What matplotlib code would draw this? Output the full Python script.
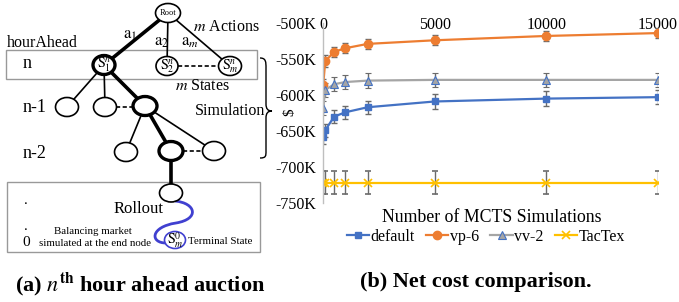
import numpy as np
import matplotlib
matplotlib.use("Agg")
import matplotlib.pyplot as plt
import matplotlib.patches as ptchs
from matplotlib.path import Path
from matplotlib.lines import Line2D

plt.rcParams['font.family'] = ['Liberation Serif', 'DejaVu Serif']
plt.rcParams['mathtext.fontset'] = 'stix'

# chart data (values in thousands of $)
sims = [10, 100, 500, 1000, 2000, 5000, 10000, 15000]
default = [-659, -649, -630, -624, -617, -609, -605, -603]
vp6 = [-586, -553, -540, -535, -529, -524, -518, -514]
vv2 = [-618, -593, -585, -582, -580, -579, -579, -579]
tactex = [-722, -722, -722, -722, -722, -722, -722, -722]
err_default = [9, 9, 9, 9, 9, 10, 10, 10]
err_vp6 = [8, 8, 7, 7, 7, 7, 7, 7]
err_vv2 = [10, 10, 10, 10, 10, 10, 10, 10]
err_tactex = [16, 16, 16, 16, 16, 16, 16, 16]
yticks = [-500, -550, -600, -650, -700, -750]
xticks = [0, 5000, 10000, 15000]

W, H = 679, 302
fig = plt.figure(figsize=(W / 100, H / 100), dpi=100)

# overlay axes in pixel coords for the diagram and captions
bg = fig.add_axes([0, 0, 1, 1])
bg.set_xlim(0, W)
bg.set_ylim(H, 0)
bg.axis('off')


def node(x, y, thick=False, w=22, h=19, col='black'):
    e = ptchs.Ellipse((x, y), w, h, facecolor='white', edgecolor=col,
                      lw=2.4 if thick else 1.2, zorder=3)
    bg.add_patch(e)


def edge(p, q, thick=False):
    bg.plot([p[0], q[0]], [p[1], q[1]], color='black',
            lw=2.6 if thick else 1.2, zorder=2, solid_capstyle='butt')


def dashed(x0, x1, y):
    bg.plot([x0, x1], [y, y], color='black', lw=1.2, ls=(0, (2.5, 1.5)), zorder=2)


# boxes
bg.add_patch(ptchs.Rectangle((6, 50), 251, 29, fill=False, edgecolor='#999999', lw=1.0, zorder=1))
bg.add_patch(ptchs.Rectangle((7, 182), 253, 70, fill=False, edgecolor='#999999', lw=1.0, zorder=1))

root = (168, 13)
s1, s2, sm = (104, 65), (167, 66), (230, 66)
l1 = [(67, 107), (105, 107), (145, 106)]
l2 = [(126, 152), (171, 151), (214, 151)]
roll = (171, 193)
term = (175, 240)

edge(root, s1, True)
edge(root, s2)
edge(root, sm)
edge(s1, l1[0])
edge(s1, l1[1])
edge(s1, l1[2], True)
edge(l1[2], l2[0])
edge(l1[2], l2[1], True)
edge(l1[2], l2[2])
edge(l2[1], roll, True)
dashed(178, 219, 66)
dashed(116, 134, 107)
dashed(183, 203, 151)

node(root[0], root[1], w=25, h=19)
node(s1[0], s1[1], True)
node(s2[0], s2[1])
node(sm[0], sm[1], w=23)
for p in l1[:2]:
    node(p[0], p[1], w=23)
node(l1[2][0], l1[2][1], True, w=24)
node(l2[0][0], l2[0][1], w=23)
node(l2[1][0], l2[1][1], True, w=24)
node(l2[2][0], l2[2][1], w=23)
node(roll[0], roll[1], w=23, h=18)

# rollout squiggle to terminal node
verts = [(175, 201), (196, 203), (200, 219), (176, 223),
         (150, 227), (150, 243), (166, 243)]
codes = [Path.MOVETO, Path.CURVE4, Path.CURVE4, Path.CURVE4,
         Path.CURVE4, Path.CURVE4, Path.CURVE4]
bg.add_patch(ptchs.PathPatch(Path(verts, codes), fill=False, edgecolor='#4040d0', lw=2.0, zorder=2))
node(term[0], term[1], w=21, h=17, col='#4040d0')

# node labels
bg.text(root[0], root[1], 'Root', fontsize=6, ha='center', va='center', zorder=4)
bg.text(s1[0], s1[1], r'$\mathrm{S}_1^n$', fontsize=10, ha='center', va='center', zorder=4)
bg.text(s2[0], s2[1], r'$\mathrm{S}_2^n$', fontsize=10, ha='center', va='center', zorder=4)
bg.text(sm[0], sm[1], r'$\mathrm{S}_m^n$', fontsize=10, ha='center', va='center', zorder=4)
bg.text(term[0], term[1], r'$\mathrm{S}_m^0$', fontsize=10, ha='center', va='center', zorder=4)

bg.text(130, 35, r'$\mathrm{a}_1$', fontsize=12, ha='center', va='center')
bg.text(162, 42, r'$\mathrm{a}_2$', fontsize=12, ha='center', va='center')
bg.text(190, 42, r'$\mathrm{a}_m$', fontsize=12, ha='center', va='center')
bg.text(193, 27, r'$m$ Actions', fontsize=11.5, ha='left', va='center')
bg.text(175, 86, r'$m$ States', fontsize=11.5, ha='left', va='center')
bg.text(7, 43, 'hourAhead', fontsize=11.5, ha='left', va='center')
bg.text(23, 64, 'n', fontsize=13, ha='left', va='center')
bg.text(23, 108, 'n-1', fontsize=13, ha='left', va='center')
bg.text(23, 153, 'n-2', fontsize=13, ha='left', va='center')
bg.text(265, 111, 'Simulation', fontsize=11.5, ha='right', va='center')
bg.text(139, 209, 'Rollout', fontsize=12, ha='center', va='center')
bg.text(93, 231, 'Balancing market', fontsize=7.8, ha='center', va='center')
bg.text(95, 243, 'simulated at the end node', fontsize=7.8, ha='center', va='center')
bg.text(188, 241, 'Terminal State', fontsize=7.8, ha='left', va='center')
bg.text(26, 200, '.', fontsize=11, ha='center', va='center')
bg.text(26, 226, '.', fontsize=11, ha='center', va='center')
bg.text(26, 243, '0', fontsize=11, ha='center', va='center')

# brace
bverts = [(260, 58), (266, 58), (266, 62), (266, 68), (266, 104),
          (266, 109), (268, 111), (272, 111), (268, 111), (266, 113),
          (266, 118), (266, 151), (266, 156), (266, 158), (260, 158)]
bcodes = [Path.MOVETO, Path.CURVE4, Path.CURVE4, Path.CURVE4, Path.LINETO,
          Path.CURVE4, Path.CURVE4, Path.CURVE4, Path.CURVE4, Path.CURVE4,
          Path.CURVE4, Path.LINETO, Path.CURVE4, Path.CURVE4, Path.CURVE4]
bg.add_patch(ptchs.PathPatch(Path(bverts, bcodes), fill=False, edgecolor='black', lw=1.0))

# captions
bg.text(140, 284, r'(a) $n^{\mathbf{th}}$ hour ahead auction', fontsize=16,
        fontweight='bold', ha='center', va='center')
bg.text(476, 282, '(b) Net cost comparison.', fontsize=16,
        fontweight='bold', ha='center', va='center')

# chart
ax = fig.add_axes([323 / W, 1 - 203 / H, (658 - 323) / W, (203 - 23) / H])
ax.patch.set_alpha(0)
ekw = dict(ecolor='#6b6b6b', elinewidth=1.0, capsize=2.5, capthick=1.0, lw=1.6)
ax.errorbar(sims, default, yerr=err_default, color='#4472C4', marker='s', ms=5, label='default', **ekw)
ax.errorbar(sims, vp6, yerr=err_vp6, color='#ED7D31', marker='o', ms=6, label='vp-6', **ekw)
ax.errorbar(sims, vv2, yerr=err_vv2, color='#A5A5A5', marker='^', ms=6, mec='#4472C4', mew=0.8,
            label='vv-2', **ekw)
ax.errorbar(sims, tactex, yerr=err_tactex, color='#FFC000', marker='x', ms=6, mew=1.2, label='TacTex', **ekw)

ax.set_xlim(0, 15000)
ax.set_ylim(-750, -500)
ax.set_yticks(yticks)
ax.set_yticklabels(['%dK' % v for v in yticks])
ax.set_xticks(xticks)
ax.xaxis.tick_top()
ax.tick_params(axis='x', length=0, pad=-7, labelsize=11.5)
ax.tick_params(axis='y', length=0, pad=5, labelsize=11.5)
for s in ['top', 'right', 'bottom']:
    ax.spines[s].set_visible(False)
ax.spines['left'].set_color('#bfbfbf')
ax.spines['left'].set_linewidth(1.0)

bg.text(290, 112, r'\$', fontsize=11, rotation=90, ha='center', va='center')
bg.text(492, 217, 'Number of MCTS Simulations', fontsize=12.8, ha='center', va='center')

handles = [Line2D([], [], color='#4472C4', marker='s', ms=5, lw=1.6),
           Line2D([], [], color='#ED7D31', marker='o', ms=6, lw=1.6),
           Line2D([], [], color='#A5A5A5', marker='^', ms=6, mec='#4472C4', mew=0.8, lw=1.6),
           Line2D([], [], color='#FFC000', marker='x', ms=6, mew=1.2, lw=1.6)]
fig.legend(handles, ['default', 'vp-6', 'vv-2', 'TacTex'], loc='center',
           bbox_to_anchor=(486 / W, 1 - 237 / H), ncol=4, frameon=False,
           fontsize=11.5, handlelength=1.4, handletextpad=0.1, columnspacing=0.7,
           borderpad=0)

fig.savefig('out.png', dpi=100)
